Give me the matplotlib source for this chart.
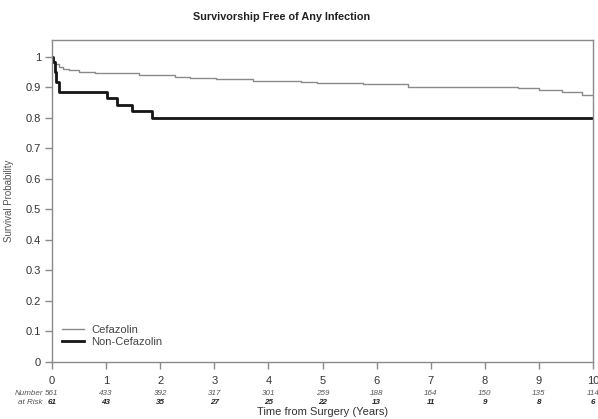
import matplotlib
matplotlib.use("Agg")
import matplotlib.pyplot as plt
import matplotlib.transforms as mtransforms

plt.rcParams['font.family'] = ['Liberation Sans', 'DejaVu Sans']

# Kaplan-Meier steps
cefazolin_t = [0, 0.02, 0.06, 0.12, 0.2, 0.32, 0.5, 0.79, 1.6, 2.27, 2.55, 3.03,
               3.71, 4.61, 4.89, 5.75, 6.58, 8.62, 9.0, 9.42, 9.79, 10]
cefazolin_s = [1, 0.985, 0.975, 0.967, 0.96, 0.955, 0.951, 0.945, 0.940, 0.9325, 0.929, 0.926,
               0.921, 0.918, 0.913, 0.909, 0.901, 0.896, 0.89, 0.884, 0.874, 0.874]
noncef_t = [0, 0.02, 0.05, 0.08, 0.12, 1.01, 1.2, 1.47, 1.85, 10]
noncef_s = [1, 0.984, 0.95, 0.918, 0.885, 0.864, 0.842, 0.822, 0.798, 0.798]

years = list(range(11))
risk_cef = ["561", "433", "392", "317", "301", "259", "188", "164", "150", "135", "114"]
risk_non = ["61", "43", "35", "27", "25", "22", "13", "11", "9", "8", "6"]
yticks = [0, 0.1, 0.2, 0.3, 0.4, 0.5, 0.6, 0.7, 0.8, 0.9, 1]

fig = plt.figure(figsize=(5.98, 4.19), dpi=100)
ax = fig.add_axes([0.087, 0.1368, 0.9046, 0.7677])

ax.step(cefazolin_t, cefazolin_s, where="post", color="#8a8a8a", lw=1.0, label="Cefazolin")
ax.step(noncef_t, noncef_s, where="post", color="#151515", lw=2.0, label="Non-Cefazolin")

ax.set_xlim(0, 10)
ax.set_ylim(0, 1.0548)
ax.set_xticks(years)
ax.set_yticks(yticks)
ax.set_yticklabels(["0", "0.1", "0.2", "0.3", "0.4", "0.5", "0.6", "0.7", "0.8", "0.9", "1"])
for s in ax.spines.values():
    s.set_color("#8a8a8a")
    s.set_linewidth(1.0)
ax.tick_params(colors="#8a8a8a", labelcolor="#333333", labelsize=8, length=5, width=1)
ax.tick_params(axis="x", pad=5.5)
ax.tick_params(axis="y", pad=3)

ax.set_ylabel("Survival Probability", fontsize=7, color="#555555")
ax.yaxis.set_label_coords(-0.071, 0.5)

ax.legend(loc="lower left", bbox_to_anchor=(0.0, 0.015), frameon=False, fontsize=8,
          handlelength=2.0, handletextpad=0.6, labelspacing=0.15, labelcolor="#444444")

# number at risk rows
trans = mtransforms.blended_transform_factory(ax.transData, ax.transAxes)
for x, a, b in zip(years, risk_cef, risk_non):
    ax.text(x, -0.1, a, transform=trans, ha="center", va="center", fontsize=5.8,
            style="italic", color="#555555", clip_on=False)
    ax.text(x, -0.128, b, transform=trans, ha="center", va="center", fontsize=5.8,
            style="italic", weight="bold", color="#222222", clip_on=False)
ax.text(-0.17, -0.1, "Number", transform=trans, ha="right", va="center", fontsize=5.8,
        style="italic", color="#555555")
ax.text(-0.17, -0.128, "at Risk", transform=trans, ha="right", va="center", fontsize=5.8,
        style="italic", color="#555555")

ax.text(0.5, -0.156, "Time from Surgery (Years)", transform=ax.transAxes, ha="center",
        va="center", fontsize=8, color="#333333")

fig.text(282 / 598, 1 - 17 / 419, "Survivorship Free of Any Infection", ha="center",
         va="center", fontsize=7.8, weight="bold", color="#222222")

fig.savefig("out.png", dpi=100)
